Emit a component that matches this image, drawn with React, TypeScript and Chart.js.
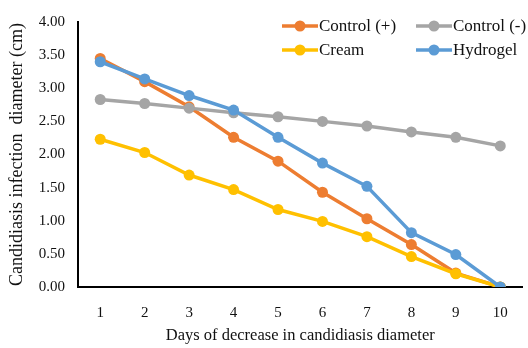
import React, { useEffect, useRef } from "react";
import { Chart, registerables } from "chart.js";
Chart.register(...registerables);

const days = ["1", "2", "3", "4", "5", "6", "7", "8", "9", "10"];
const controlPos = [3.45, 3.1, 2.72, 2.26, 1.9, 1.43, 1.03, 0.64, 0.21, 0];
const controlNeg = [2.83, 2.77, 2.7, 2.63, 2.57, 2.5, 2.43, 2.34, 2.26, 2.13];
const cream = [2.23, 2.03, 1.69, 1.47, 1.17, 0.99, 0.76, 0.46, 0.2, 0];
const hydrogel = [3.4, 3.14, 2.89, 2.67, 2.26, 1.87, 1.52, 0.82, 0.49, 0];

const seriesNames = ["Control (+)", "Control (-)", "Cream", "Hydrogel"];
const seriesColors = ["#ED7D31", "#A5A5A5", "#FFC000", "#5B9BD5"];

const FONT = "'Liberation Serif', 'Times New Roman', serif";

const legendPlugin = {
  id: "customLegend",
  afterDraw(chart: any) {
    const ctx = chart.ctx;
    const pos = [
      [282, 26],
      [416, 26],
      [282, 50],
      [416, 50],
    ];
    ctx.save();
    seriesNames.forEach((name, i) => {
      const [x, y] = pos[i];
      ctx.strokeStyle = seriesColors[i];
      ctx.lineWidth = 3.5;
      ctx.beginPath();
      ctx.moveTo(x, y);
      ctx.lineTo(x + 36, y);
      ctx.stroke();
      ctx.fillStyle = seriesColors[i];
      ctx.beginPath();
      ctx.arc(x + 18, y, 5.5, 0, Math.PI * 2);
      ctx.fill();
      ctx.fillStyle = "#111";
      ctx.font = `17px ${FONT}`;
      ctx.textBaseline = "middle";
      ctx.textAlign = "left";
      ctx.fillText(name, x + 37, y + 1);
    });
    ctx.restore();
  },
};

export default function App() {
  const ref = useRef<HTMLCanvasElement>(null);
  useEffect(() => {
    document.body.style.margin = "0";
    const datasets = [controlPos, controlNeg, cream, hydrogel].map((d, i) => ({
      label: seriesNames[i],
      data: d,
      borderColor: seriesColors[i],
      backgroundColor: seriesColors[i],
      borderWidth: 3.5,
      pointRadius: 5.5,
      pointHoverRadius: 5.5,
      pointBorderWidth: 0,
      tension: 0,
      order: [3, 2, 1, 0][i],
    }));
    const chart = new Chart(ref.current!, {
      type: "line",
      data: { labels: days, datasets },
      plugins: [legendPlugin],
      options: {
        responsive: false,
        animation: false,
        layout: { padding: { top: 20, right: 0, left: 0, bottom: 0 } },
        plugins: { legend: { display: false }, tooltip: { enabled: false } },
        scales: {
          x: {
            offset: true,
            grid: { display: false, drawTicks: false },
            border: { display: true, color: "#000", width: 2 },
            ticks: { color: "#111", font: { family: FONT, size: 15 }, padding: 17 },
            title: {
              display: true,
              text: "Days of decrease in candidiasis diameter",
              color: "#111",
              font: { family: FONT, size: 16.5 },
              padding: { top: 4, bottom: 2 },
            },
            afterFit: (s: any) => {
              s.height = 61;
            },
          },
          y: {
            min: 0,
            max: 4,
            grid: { display: false, drawTicks: false },
            border: { display: true, color: "#000", width: 2 },
            ticks: {
              stepSize: 0.5,
              color: "#111",
              font: { family: FONT, size: 15 },
              padding: 13,
              callback: (v: any) => Number(v).toFixed(2),
            },
            title: {
              display: true,
              text: "Candidiasis infection  diameter (cm)",
              color: "#111",
              font: { family: FONT, size: 18 },
              padding: { top: 6, bottom: 4 },
            },
            afterFit: (s: any) => {
              s.width = 78;
            },
          },
        },
      },
    });
    return () => chart.destroy();
  }, []);
  return <canvas ref={ref} width={528} height={348} style={{ display: "block" }} />;
}
